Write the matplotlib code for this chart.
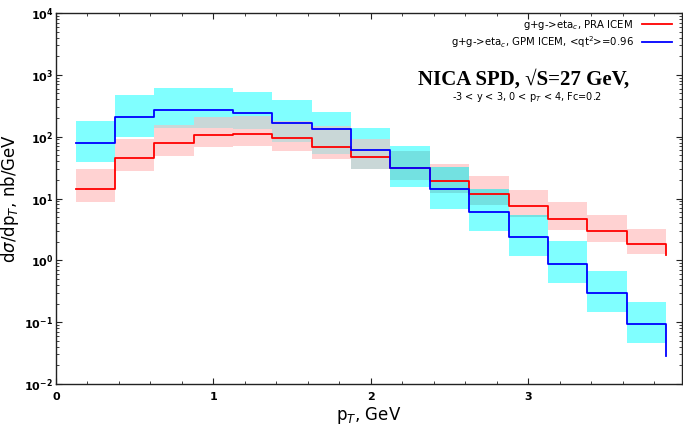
import numpy as np
import matplotlib
matplotlib.use('Agg')
import matplotlib.pyplot as plt
from matplotlib.ticker import MultipleLocator, LogLocator, NullFormatter, FixedLocator, FixedFormatter

# bin left edges (GeV) and the final edge
bin_edges = [0.125, 0.375, 0.625, 0.875, 1.125, 1.375, 1.625, 1.875,
             2.125, 2.375, 2.625, 2.875, 3.125, 3.375, 3.625, 3.875]

# PRA ICEM (red)
pra_central = [14.5, 44.4, 78.5, 107, 111, 93.5, 68.7, 46.9,
               31.2, 19.05, 11.9, 7.5, 4.66, 2.95, 1.87]
pra_end = 1.2
pra_upper = [29.5, 90, 157, 210, 215, 178, 148, 90,
             57.6, 36.8, 23.0, 13.5, 8.68, 5.31, 3.27]
pra_lower = [8.78, 27.7, 48.3, 67.6, 70.2, 58.2, 42.8, 29.5,
             19.6, 12.05, 7.76, 5.06, 3.07, 1.96, 1.27]

# GPM ICEM (blue)
gpm_central = [77.6, 208, 275, 275, 237, 168, 134, 59.8,
               30.8, 14.4, 6.09, 2.40, 0.878, 0.296, 0.0938]
gpm_end = 0.028
gpm_upper = [176, 464, 618, 618, 533, 385, 246, 136,
             69.4, 32.6, 14.0, 5.51, 2.03, 0.684, 0.215]
gpm_lower = [38.7, 99.6, 136, 136, 134, 81.5, 51.5, 29.5,
             15.2, 6.89, 2.96, 1.16, 0.429, 0.145, 0.0456]

label_pra = r'g+g->eta$_c$, PRA ICEM'
label_gpm = r'g+g->eta$_c$, GPM ICEM, <qt$^2$>=0.96'

W, H = 683, 425
fig = plt.figure(figsize=(W / 100, H / 100), dpi=100)
ax = fig.add_axes([56 / W, 1 - 384 / H, (681.7 - 56) / W, (384 - 13) / H])

edges = np.array(bin_edges)
lo_x = edges[:-1]
hi_x = edges[1:]

c_cyan = '#80ffff'
c_pink = '#ffd2d2'
c_gray = '#c9d7d7'
c_teal = '#73e1e1'

for i in range(len(lo_x)):
    w = hi_x[i] - lo_x[i]
    ax.bar(lo_x[i], gpm_upper[i] - gpm_lower[i], bottom=gpm_lower[i], width=w,
           align='edge', color=c_cyan, linewidth=0, zorder=1)
    ax.bar(lo_x[i], pra_upper[i] - pra_lower[i], bottom=pra_lower[i], width=w,
           align='edge', color=c_pink, linewidth=0, zorder=1)
    ov_lo = max(gpm_lower[i], pra_lower[i])
    ov_hi = min(gpm_upper[i], pra_upper[i])
    if ov_hi > ov_lo:
        col = c_gray if lo_x[i] < 2.0 else c_teal
        ax.bar(lo_x[i], ov_hi - ov_lo, bottom=ov_lo, width=w,
               align='edge', color=col, linewidth=0, zorder=2)

ax.step(edges, pra_central + [pra_end], where='post', color='#ff0000', lw=1.3,
        zorder=4, label=label_pra)
ax.step(edges, gpm_central + [gpm_end], where='post', color='#0000ff', lw=1.3,
        zorder=5, label=label_gpm)

ax.set_yscale('log')
ax.set_xlim(0, 3.975)
ax.set_ylim(1e-2, 1e4)

ax.xaxis.set_major_locator(FixedLocator([0, 1, 2, 3]))
ax.xaxis.set_major_formatter(FixedFormatter(['0', '1', '2', '3']))
ax.xaxis.set_minor_locator(MultipleLocator(0.2))
ax.yaxis.set_major_locator(FixedLocator([1e-2, 1e-1, 1e0, 1e1, 1e2, 1e3, 1e4]))
ax.yaxis.set_major_formatter(FixedFormatter(
    [r'$\mathbf{10^{%d}}$' % p for p in range(-2, 5)]))
ax.yaxis.set_minor_locator(LogLocator(base=10, subs=np.arange(2, 10), numticks=20))
ax.yaxis.set_minor_formatter(NullFormatter())

ax.tick_params(which='both', direction='in', top=True, right=True, colors='#222222',
               labelcolor='black', labelsize=8)
ax.tick_params(which='major', length=4, width=0.8)
ax.tick_params(which='minor', length=2.5, width=0.6)
for lab in ax.get_xticklabels():
    lab.set_fontweight('bold')
ax.tick_params(axis='x', pad=6)
ax.tick_params(axis='y', pad=2)
for s in ax.spines.values():
    s.set_color('#222222')
    s.set_linewidth(1.0)

ax.set_xlabel(r'p$_T$, GeV', fontsize=12, labelpad=2)
ax.set_ylabel(r'd$\sigma$/dp$_T$, nb/GeV', fontsize=12, labelpad=2)

ax.legend(loc='upper right', bbox_to_anchor=(672 / W, 1 - 18 / H),
          bbox_transform=fig.transFigure, frameon=False, markerfirst=False,
          fontsize=7.3, handlelength=3.0, handletextpad=0.8, borderpad=0,
          borderaxespad=0, labelspacing=0.2)

fig.text(524 / W, 1 - 85 / H, 'NICA SPD, \u221aS=27 GeV,', ha='center', va='baseline',
         family='Liberation Serif', weight='bold', fontsize=15)
fig.text(527 / W, 1 - 100 / H, r'-3 < y < 3, 0 < p$_T$ < 4, Fc=0.2', ha='center',
         va='baseline', fontsize=7)

fig.savefig('out.png', dpi=100)
